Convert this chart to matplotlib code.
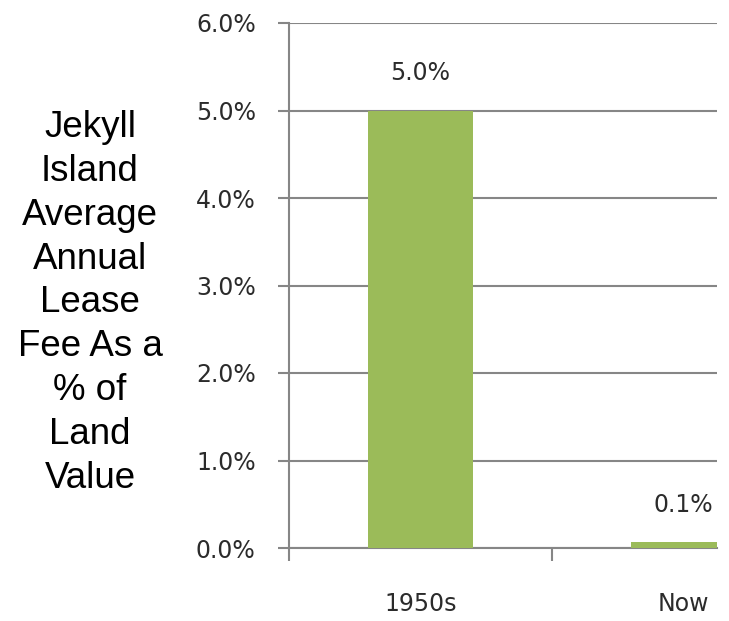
import matplotlib.pyplot as plt
from matplotlib.ticker import FuncFormatter

# data
categories = ["1950s", "Now"]
fee_pct = [5.0, 0.07]
yticks = [0, 1, 2, 3, 4, 5, 6]
ylabel_text = "Jekyll\nIsland\nAverage\nAnnual\nLease\nFee As a\n% of\nLand\nValue"

bar_color = "#9BBB59"
grid_color = "#868686"
text_color = "#2b2b2b"

fig = plt.figure(figsize=(7.29, 6.21), dpi=100)
ax = fig.add_axes([289 / 729, 1 - 548 / 621, (717 - 289) / 729, (548 - 23) / 621])

x = list(range(len(categories)))
ax.bar(x, fee_pct, width=0.4, color=bar_color, zorder=3)

# value labels above bars
for xi, v in zip(x, fee_pct):
    ax.annotate(f"{v:.1f}%", (xi, v), xytext=(0, 18), textcoords="offset points",
                ha="center", va="bottom", fontsize=17, color=text_color,
                annotation_clip=False)

ax.set_yticks(yticks)
ax.yaxis.set_major_formatter(FuncFormatter(lambda v, p: f"{v:.1f}%"))
ax.yaxis.grid(True, color=grid_color, linewidth=1.5, zorder=0)
ax.tick_params(axis="y", length=8, width=1.5, color=grid_color, pad=16,
               labelsize=17, labelcolor=text_color)

# category boundaries as ticks, names in the middle
ax.set_xticks([-0.5, 0.5])
ax.set_xticklabels([])
ax.tick_params(axis="x", length=9, width=1.5, color=grid_color)
ax.set_ylim(0, 6)
ax.set_xlim(-0.5, 1.127)
for xi, c in zip(x, categories):
    ax.text(xi, -0.5, c, ha="center", va="top", fontsize=17, color=text_color,
            clip_on=False)

for s in ["top", "right"]:
    ax.spines[s].set_visible(False)
for s in ["left", "bottom"]:
    ax.spines[s].set_color(grid_color)
    ax.spines[s].set_linewidth(1.5)

fig.text(90 / 729, 1 - 303 / 621, ylabel_text, ha="center", va="center",
         fontsize=26.5, family="Liberation Sans", linespacing=1.33, color="black")

fig.savefig("out.png", dpi=100)
